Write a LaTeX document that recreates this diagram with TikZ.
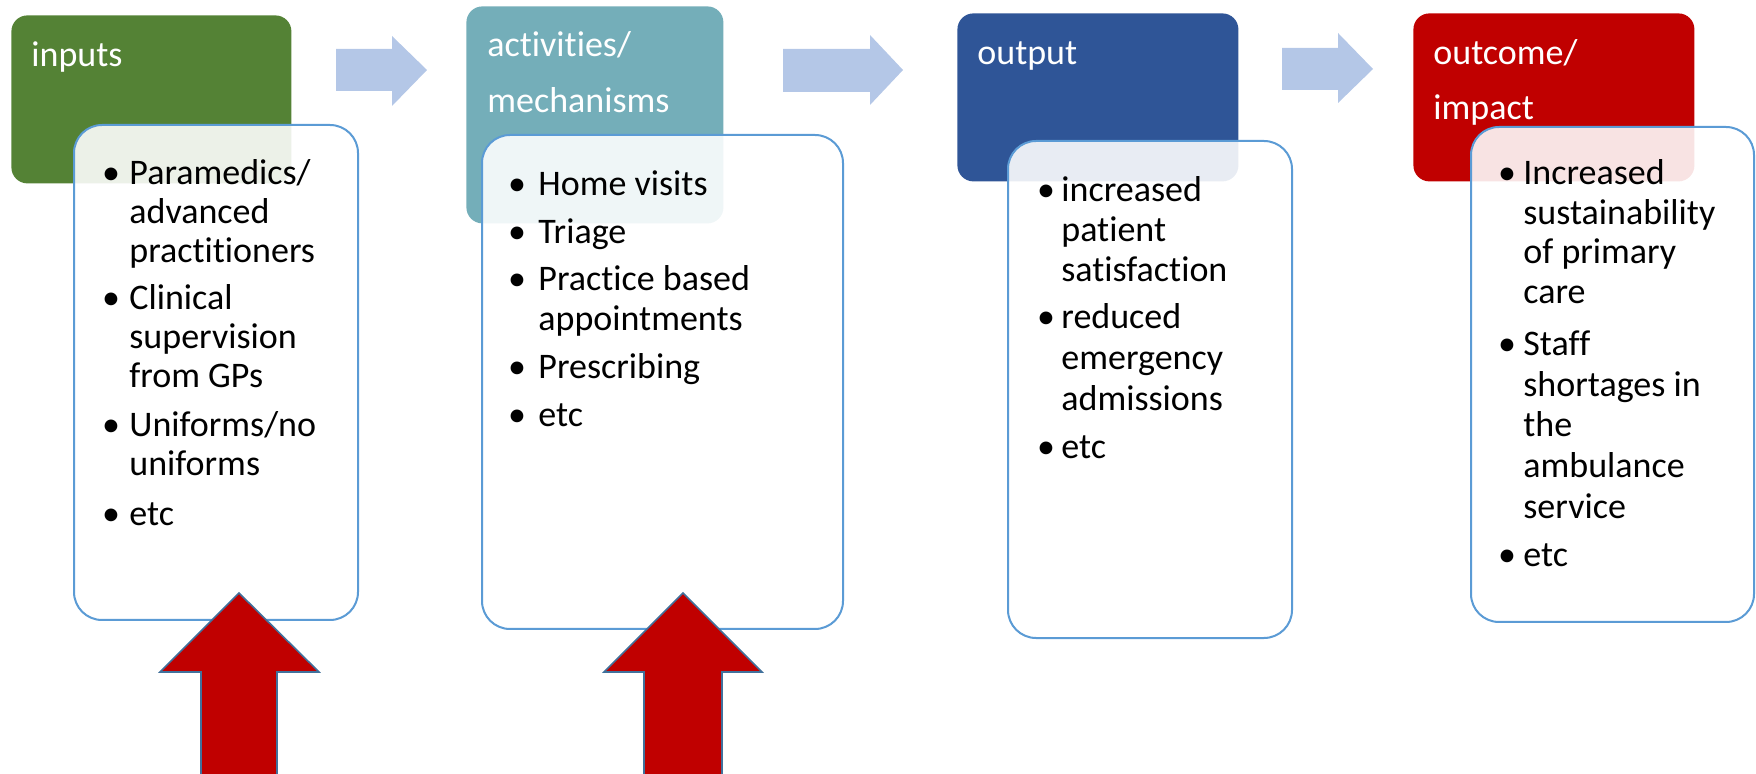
\documentclass[tikz,border=0pt]{standalone}
\usepackage{fontspec}
\setmainfont{Carlito}[Ligatures={NoCommon,NoRare,NoContextual},Contextuals={NoAlternate}]
\newcommand\nolig{\kern0pt }
\definecolor{cgreen}{HTML}{548235}
\definecolor{cteal}{HTML}{74AEB9}
\definecolor{cblue}{HTML}{2F5597}
\definecolor{cred}{HTML}{C00000}
\definecolor{larrow}{HTML}{B4C7E7}
\definecolor{wborder}{HTML}{5B9BD5}
\definecolor{aborder}{HTML}{41719C}
\begin{document}
\begin{tikzpicture}[x=0.5pt,y=-0.5pt,
  hdr/.style={rounded corners=8pt,inner sep=0,anchor=north west,draw=none},
  wbox/.style={rounded corners=14pt,inner sep=0,anchor=north west,draw=wborder,line width=1pt,fill=white,fill opacity=0.89,draw opacity=1},
  htxt/.style={inner sep=0,anchor=base west,text=white,font=\fontsize{18}{21}\selectfont},
  ltxt/.style={inner sep=0,anchor=base west,text=black,font=\fontsize{18}{21}\selectfont},
  bul/.style={inner sep=0,anchor=base,text=black,font=\fontsize{18}{21}\selectfont},
  flow/.style={fill=larrow,draw=none},
  uparrow/.style={fill=cred,draw=aborder,line width=0.8pt,line join=miter}]
\useasboundingbox (0,0) rectangle (1756,774);
% header boxes
\node[hdr,fill=cgreen,minimum width=140pt,minimum height=84pt] (h1) at (11,15) {};
\node[hdr,fill=cteal,minimum width=128.5pt,minimum height=108.5pt] (h2) at (466,6) {};
\node[hdr,fill=cblue,minimum width=140.5pt,minimum height=84pt] (h3) at (957,13) {};
\node[hdr,fill=cred,minimum width=140.5pt,minimum height=84pt] (h4) at (1413,13) {};
% header texts
\node[htxt] (h1t) at (31,67) {inputs};
\node[htxt] (h2t) at (487,57) {act\nolig ivit\nolig ies/};
\node[htxt] (h2u) at (487,113) {mechanisms};
\node[htxt] (h3t) at (977,65) {output};
\node[htxt] (h4t) at (1433,65) {outcome/};
\node[htxt] (h4u) at (1433,120) {impact};
% flow arrows
\fill[flow] (336,49) -- (392,49) -- (392,36) -- (427,70) -- (392,106) -- (392,91) -- (336,91) -- cycle;
\fill[flow] (783,49) -- (870,49) -- (870,35) -- (903,70) -- (870,105) -- (870,92) -- (783,92) -- cycle;
\fill[flow] (1282,48) -- (1338,48) -- (1338,33) -- (1373,69) -- (1338,103) -- (1338,90) -- (1282,90) -- cycle;
% white boxes
\node[wbox,minimum width=142pt,minimum height=247.5pt] (b1) at (73,124) {};
\node[wbox,minimum width=180.5pt,minimum height=247pt] (b2) at (481,134) {};
\node[wbox,minimum width=142pt,minimum height=248.5pt] (b3) at (1007,140) {};
\node[wbox,minimum width=141.5pt,minimum height=247.5pt] (b4) at (1470,126) {};
% box 1 text
\node[bul] (b1i1) at (111,185) {•};
\node[ltxt] (b1l1) at (129,185) {Paramedics/};
\node[ltxt] (b1l2) at (129,224) {advanced};
\node[ltxt] (b1l3) at (129,263) {pract\nolig it\nolig ioners};
\node[bul] (b1i2) at (111,310) {•};
\node[ltxt] (b1l4) at (129,310) {Clinical};
\node[ltxt] (b1l5) at (129,349) {supervision};
\node[ltxt] (b1l6) at (129,388) {from GPs};
\node[bul] (b1i3) at (111,437) {•};
\node[ltxt] (b1l7) at (129,437) {Uniforms/no};
\node[ltxt] (b1l8) at (129,476) {uniforms};
\node[bul] (b1i4) at (111,526) {•};
\node[ltxt] (b1l9) at (129,526) {etc};
% box 2 text
\node[bul] (b2i1) at (517,196) {•};
\node[ltxt] (b2l1) at (538,196) {Home visits};
\node[bul] (b2i2) at (517,244) {•};
\node[ltxt] (b2l2) at (538,244) {Triage};
\node[bul] (b2i3) at (517,291) {•};
\node[ltxt] (b2l3) at (538,291) {Practice based};
\node[ltxt] (b2l4) at (538,331) {appointments};
\node[bul] (b2i4) at (517,379) {•};
\node[ltxt] (b2l5) at (538,379) {Prescribing};
\node[bul] (b2i5) at (517,427) {•};
\node[ltxt] (b2l6) at (538,427) {etc};
% box 3 text
\node[bul] (b3i1) at (1046,202) {•};
\node[ltxt] (b3l1) at (1061,202) {increased};
\node[ltxt] (b3l2) at (1061,242) {patient};
\node[ltxt] (b3l3) at (1061,282) {satisfact\nolig ion};
\node[bul] (b3i2) at (1046,329) {•};
\node[ltxt] (b3l4) at (1061,329) {reduced};
\node[ltxt] (b3l5) at (1061,370) {emergency};
\node[ltxt] (b3l6) at (1061,411) {admissions};
\node[bul] (b3i3) at (1046,459) {•};
\node[ltxt] (b3l7) at (1061,459) {etc};
% box 4 text
\node[bul] (b4i1) at (1507,185) {•};
\node[ltxt] (b4l1) at (1523,185) {Increased};
\node[ltxt] (b4l2) at (1523,225) {sustainability};
\node[ltxt] (b4l3) at (1523,264) {of primary};
\node[ltxt] (b4l4) at (1523,304) {care};
\node[bul] (b4i2) at (1507,356) {•};
\node[ltxt] (b4l5) at (1523,356) {Staff};
\node[ltxt] (b4l6) at (1523,397) {shortages in};
\node[ltxt] (b4l7) at (1523,437) {the};
\node[ltxt] (b4l8) at (1523,478) {ambulance};
\node[ltxt] (b4l9) at (1523,519) {service};
\node[bul] (b4i3) at (1507,567) {•};
\node[ltxt] (b4l10) at (1523,567) {etc};
% red up arrows
\draw[uparrow] (239,593) -- (319,672) -- (277,672) -- (277,776) -- (201,776) -- (201,672) -- (160,672) -- cycle;
\draw[uparrow] (683,593) -- (762,672) -- (722,672) -- (722,776) -- (644,776) -- (644,672) -- (604,672) -- cycle;
\end{tikzpicture}
\end{document}
